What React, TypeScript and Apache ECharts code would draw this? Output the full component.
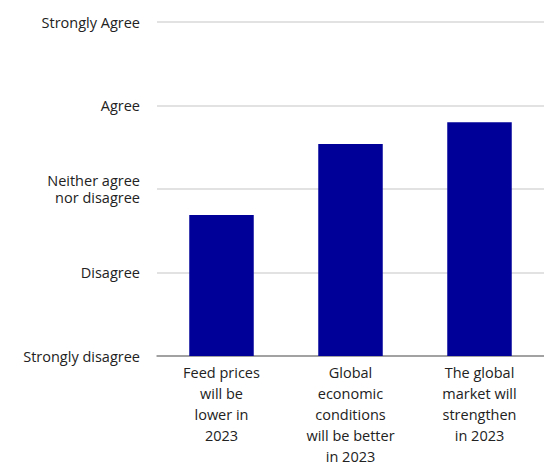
import React, { useEffect, useRef } from "react";
import * as echarts from "echarts";

const categories = [
  "Feed prices\nwill be\nlower in\n2023",
  "Global\neconomic\nconditions\nwill be better\nin 2023",
  "The global\nmarket will\nstrengthen\nin 2023",
];
const values = [2.69, 3.54, 3.8];
const levelLabels: Record<number, string> = {
  1: "Strongly disagree",
  2: "Disagree",
  3: "Neither agree\nnor disagree",
  4: "Agree",
  5: "Strongly Agree",
};

export default function App() {
  const ref = useRef<HTMLDivElement>(null);
  useEffect(() => {
    if (!ref.current) return;
    const chart = echarts.init(ref.current, undefined, { renderer: "svg" });
    chart.setOption({
      animation: false,
      textStyle: { fontFamily: "Open Sans" },
      grid: { left: 157, right: 8, top: 22, bottom: 114 },
      xAxis: {
        type: "category",
        data: categories,
        axisLine: { lineStyle: { color: "#8c8c8c", width: 1.5 } },
        axisTick: { show: false },
        axisLabel: {
          color: "#222",
          fontSize: 14.5,
          fontFamily: "Open Sans",
          lineHeight: 21,
          margin: 6,
          interval: 0,
          verticalAlign: "top",
        },
      },
      yAxis: {
        type: "value",
        min: 1,
        max: 5,
        interval: 1,
        splitLine: { lineStyle: { color: "#d9d9d9", width: 1.5 } },
        axisLabel: {
          color: "#222",
          fontSize: 14.5,
          fontFamily: "Open Sans",
          lineHeight: 17.5,
          margin: 17,
          formatter: (v: number) => levelLabels[v] ?? "",
        },
      },
      series: [
        {
          type: "bar",
          data: values,
          barWidth: "50%",
          itemStyle: { color: "#000099" },
        },
      ],
    });
    return () => chart.dispose();
  }, []);
  return <div ref={ref} style={{ width: 552, height: 470, margin: -8 }} />;
}
